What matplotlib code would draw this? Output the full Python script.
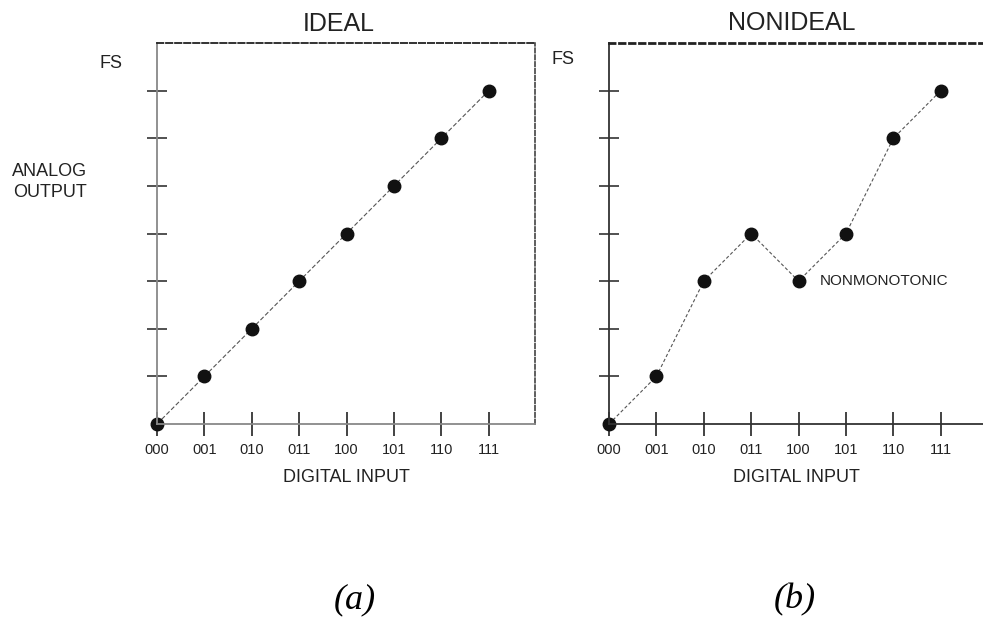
import matplotlib
matplotlib.use('Agg')
import matplotlib.pyplot as plt

plt.rcParams['font.family'] = ['Liberation Sans', 'DejaVu Sans']

codes = ['000', '001', '010', '011', '100', '101', '110', '111']
ideal = [0, 1, 2, 3, 4, 5, 6, 7]
nonideal = [0, 1, 3, 4, 3, 4, 6, 7]
fs_level = 8

W, H = 983, 617
fig = plt.figure(figsize=(W / 100, H / 100), dpi=100)
fig.patch.set_facecolor('white')

unit = 47.4  # pixels per step


def make_axes(x0, right_px, axis_color, top_lw, top_dash, right_dash):
    left = x0 / W
    bottom = (H - 424) / H
    width = (right_px - x0) / W
    height = (424 - 43) / H
    ax = fig.add_axes([left, bottom, width, height])
    ax.set_xlim(0, (right_px - x0) / unit)
    ax.set_ylim(0, fs_level)
    ax.set_facecolor('none')
    for s in ['left', 'bottom']:
        ax.spines[s].set_color(axis_color)
        ax.spines[s].set_linewidth(1.3)
    ax.spines['top'].set_linestyle(top_dash)
    ax.spines['top'].set_linewidth(top_lw)
    ax.spines['top'].set_color('#222222')
    if right_dash:
        ax.spines['right'].set_linestyle((0, (3, 1.5)))
        ax.spines['right'].set_linewidth(1.1)
        ax.spines['right'].set_color('#333333')
    else:
        ax.spines['right'].set_visible(False)
    ax.set_xticks(range(len(codes)))
    ax.set_xticklabels(codes, fontsize=10.5, color='#222222')
    ax.set_yticks(range(1, fs_level))
    ax.set_yticklabels([])
    ax.tick_params(axis='x', direction='inout', length=17, width=1.2,
                   color='#222222', pad=5)
    ax.tick_params(axis='y', direction='inout', length=14, width=1.2,
                   color='#333333')
    ax.set_xlabel('DIGITAL INPUT', fontsize=13, color='#222222', labelpad=9)
    return ax


ax1 = make_axes(157, 535, '#888888', 1.3, (0, (3.5, 1.5)), True)
ax1.plot(range(len(codes)), ideal, color='#555555', lw=0.8,
         linestyle=(0, (4, 2)), marker='o', markersize=9,
         markerfacecolor='#111111', markeredgecolor='#111111', clip_on=False)

ax2 = make_axes(609, 983, '#333333', 2.0, (0, (2.0, 1.6)), False)
ax2.plot(range(len(codes)), nonideal, color='#555555', lw=0.8,
         linestyle=(0, (3, 2)), marker='o', markersize=9,
         markerfacecolor='#111111', markeredgecolor='#111111', clip_on=False)
ax2.text(4.45, 3, 'NONMONOTONIC', fontsize=11, color='#222222',
         va='center', ha='left')


def ftext(x, y, s, **kw):
    fig.text(x / W, 1 - y / H, s, **kw)


ftext(339, 24, 'IDEAL', fontsize=18, ha='center', va='center', color='#222222')
ftext(792, 23, 'NONIDEAL', fontsize=18, ha='center', va='center', color='#222222')
ftext(111, 63, 'FS', fontsize=13, ha='center', va='center', color='#222222')
ftext(563, 59, 'FS', fontsize=13, ha='center', va='center', color='#222222')
ftext(50, 182, 'ANALOG\nOUTPUT', fontsize=13, ha='center', va='center',
      color='#222222', linespacing=1.3)
ftext(355, 600, '(a)', fontsize=26, ha='center', va='center',
      family='Liberation Serif', style='italic')
ftext(795, 600, '(b)', fontsize=26, ha='center', va='center',
      family='Liberation Serif', style='italic')

fig.savefig('out.png', dpi=100, facecolor='white')
